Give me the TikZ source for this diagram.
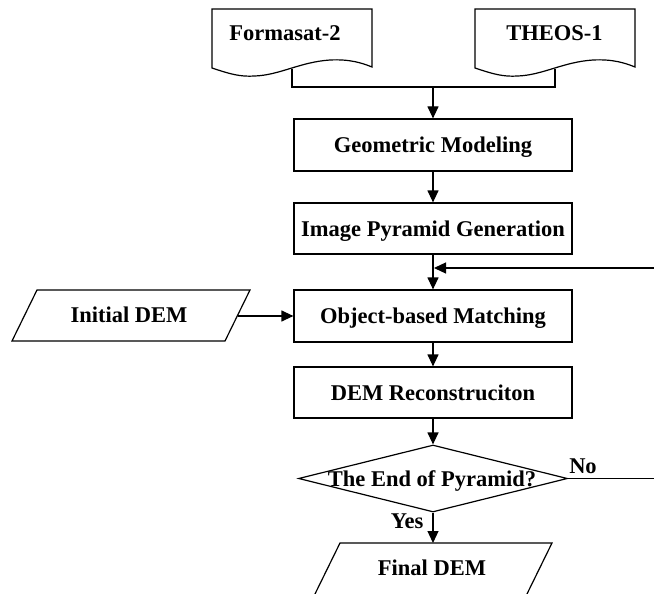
\documentclass[tikz,border=0pt]{standalone}
\usepackage{fontspec}
\setmainfont{Liberation Serif}
\usetikzlibrary{arrows.meta,shapes.geometric}
\begin{document}
\begin{tikzpicture}[x=1pt,y=-1pt,
  line width=1.2pt,
  lbl/.style={font=\fontsize{22.5}{27}\selectfont\bfseries, inner sep=0pt, text height=15pt, text depth=0pt},
  procbox/.style={draw, rectangle, minimum width=278pt, minimum height=51pt, inner sep=0pt, lbl},
  arr/.style={-{Triangle[length=12pt,width=11pt]}},
]
\useasboundingbox (0,0) rectangle (654,594);
\clip (0,0) rectangle (654,594);

% document shapes
\draw (212,68) -- (212,9) -- (372,9) -- (372,67)
  .. controls (362,63) and (350,59) .. (330,60)
  .. controls (300,62) and (280,75) .. (255,76)
  .. controls (240,77) and (230,74) .. (212,68) -- cycle;
\draw (475,68) -- (475,9) -- (635,9) -- (635,67)
  .. controls (625,63) and (613,59) .. (593,60)
  .. controls (563,62) and (543,75) .. (518,76)
  .. controls (503,77) and (493,74) .. (475,68) -- cycle;
\node[lbl] (fs) at (285,33.5) {Formasat-2};
\node[lbl] (th) at (554.5,33.5) {THEOS-1};
\coordinate (fsb) at (292,68.6);
\coordinate (thb) at (555,68.6);
\coordinate (j) at (433,87);

% process boxes
\node[procbox, minimum height=52pt] (geo) at (433,145) {Geometric Modeling};
\node[procbox] (pyr) at (433,228.5) {Image Pyramid Generation};
\node[procbox, minimum height=52pt] (obj) at (433,316) {Object-based Matching};
\node[procbox] (dem) at (433,392.5) {DEM Reconstruciton};

% decision
\node[draw, diamond, minimum width=269pt, minimum height=67pt, inner sep=0pt] (dec) at (433,478.5) {};
\node[lbl] (dect) at (432,478.5) {The End of Pyramid?};
\node[lbl] (no) at (583,465.5) {No};
\node[lbl] (yes) at (407,520.5) {Yes};

% initial DEM
\draw (12,341) -- (37,290) -- (250,290) -- (225,341) -- cycle;
\node[lbl] (idem) at (129,315) {Initial DEM};
\coordinate (idr) at (237.5,316);

% final DEM
\draw (313.5,597) -- (340,543) -- (552,543) -- (525.5,597) -- cycle;
\node[lbl] (fdem) at (432,567.5) {Final DEM};
\coordinate (fint) at (433,543);

% connectors
\draw (fsb) |- (j) -| (thb);
\draw[arr] (j) -- (geo.north);
\draw[arr] (geo) -- (pyr);
\draw[arr] (pyr) -- (obj);
\draw[arr] (obj) -- (dem);
\draw[arr] (dem) -- (dec);
\draw[arr] (dec.south) -- (fint);
\draw[arr] (idr) -- (idr -| obj.west);
\coordinate (fbR) at (680,478.5);
\coordinate (fbT) at (680,268);
\coordinate (fbE) at (434,268);
\draw[arr] (dec.east) -- (fbR) -- (fbT) -- (fbE);
\end{tikzpicture}
\end{document}
